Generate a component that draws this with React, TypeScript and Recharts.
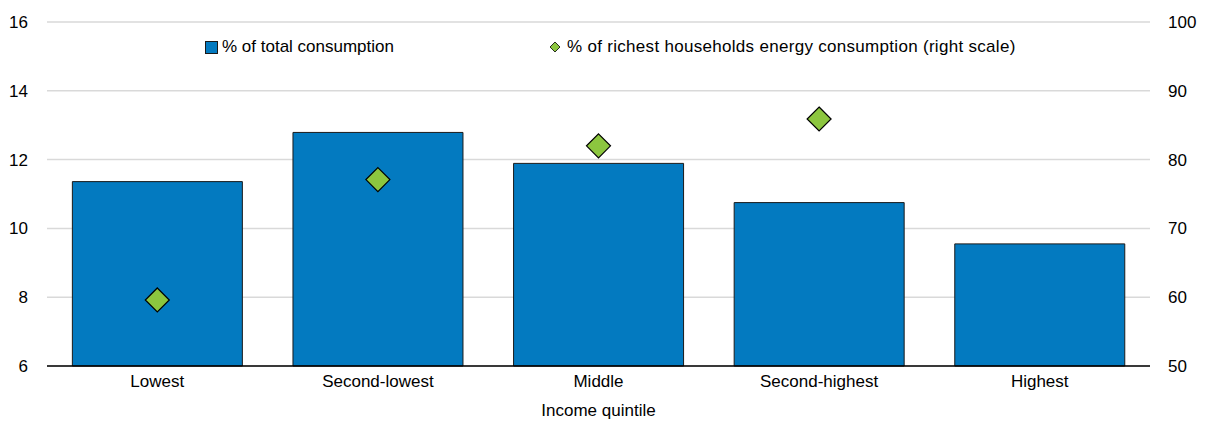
import React from 'react';
import { ComposedChart, Bar, Scatter, XAxis, YAxis, CartesianGrid, Legend, Label } from 'recharts';

const categories = ['Lowest', 'Second-lowest', 'Middle', 'Second-highest', 'Highest'];
const shareOfTotal = [11.36, 12.79, 11.89, 10.75, 9.55];
const richestShare: (number | null)[] = [59.6, 77.1, 82.0, 85.9, null];
const leftTicks = [6, 8, 10, 12, 14, 16];
const rightTicks = [50, 60, 70, 80, 90, 100];

const data = categories.map((c, i) => ({ name: c, total: shareOfTotal[i], richest: richestShare[i] }));

const FONT = '"Liberation Sans", Arial, sans-serif';
const BLUE = '#037AC0';
const GREEN = '#8CC63F';

const Diamond = (props: any) => {
  const { cx, cy, payload } = props;
  if (payload == null || payload.richest == null || cx == null || cy == null) return null;
  const r = 12;
  return (
    <path
      d={`M${cx},${cy - r} L${cx + r},${cy} L${cx},${cy + r} L${cx - r},${cy} Z`}
      fill={GREEN}
      stroke="#000"
      strokeWidth={1.2}
    />
  );
};

const LegendContent = () => (
  <div style={{ position: 'relative', width: 1207, height: 20, fontFamily: FONT, fontSize: 17, color: '#000' }}>
    <div style={{ position: 'absolute', left: 205, top: 0, display: 'flex', alignItems: 'center', height: 20 }}>
      <svg width={13} height={13} style={{ marginRight: 4 }}>
        <rect x={0.5} y={0.5} width={12} height={12} fill={BLUE} stroke="#1a1a1a" strokeWidth={1} />
      </svg>
      <span style={{ whiteSpace: 'nowrap' }}>% of total consumption</span>
    </div>
    <div style={{ position: 'absolute', left: 549, top: 0, display: 'flex', alignItems: 'center', height: 20 }}>
      <svg width={12} height={12} style={{ marginRight: 6 }}>
        <path d="M6,1 L11,6 L6,11 L1,6 Z" fill={GREEN} stroke="#000" strokeWidth={0.8} />
      </svg>
      <span style={{ whiteSpace: 'nowrap', letterSpacing: 0.3 }}>% of richest households energy consumption (right scale)</span>
    </div>
  </div>
);

export default function App() {
  return (
    <div style={{ position: 'absolute', left: 0, top: 0 }}>
      <ComposedChart
        width={1207}
        height={421}
        data={data}
        margin={{ top: 22, right: 0, bottom: 0, left: 0 }}
        barCategoryGap="11.5%"
      >
        <CartesianGrid horizontal vertical={false} stroke="#d9d9d9" strokeWidth={1.5} yAxisId="left" />
        <XAxis
          dataKey="name"
          height={55}
          tickLine={false}
          tickSize={0}
          tickMargin={9}
          axisLine={{ stroke: '#000', strokeWidth: 1.5 }}
          tick={{ fill: '#000', fontSize: 17, fontFamily: FONT }}
          interval={0}
        >
          <Label value="Income quintile" position="insideBottom" offset={5} style={{ fill: '#000', fontSize: 17, fontFamily: FONT }} />
        </XAxis>
        <YAxis
          yAxisId="left"
          width={47}
          domain={[6, 16]}
          ticks={leftTicks}
          axisLine={false}
          tickLine={false}
          tickSize={0}
          tickMargin={19}
          tick={{ fill: '#000', fontSize: 17, fontFamily: FONT }}
        />
        <YAxis
          yAxisId="right"
          orientation="right"
          width={57}
          domain={[50, 100]}
          ticks={rightTicks}
          axisLine={false}
          tickLine={false}
          tickSize={0}
          tickMargin={18}
          tick={{ fill: '#000', fontSize: 17, fontFamily: FONT, textAnchor: 'start' }}
        />
        <Legend
          layout="horizontal"
          verticalAlign="middle"
          align="center"
          wrapperStyle={{ top: 37, left: 0, width: 1207, height: 20 }}
          content={<LegendContent />}
        />
        <Bar yAxisId="left" dataKey="total" fill={BLUE} stroke="#1a1a1a" strokeWidth={1} isAnimationActive={false} />
        <Scatter yAxisId="right" dataKey="richest" shape={<Diamond />} isAnimationActive={false} />
      </ComposedChart>
    </div>
  );
}
